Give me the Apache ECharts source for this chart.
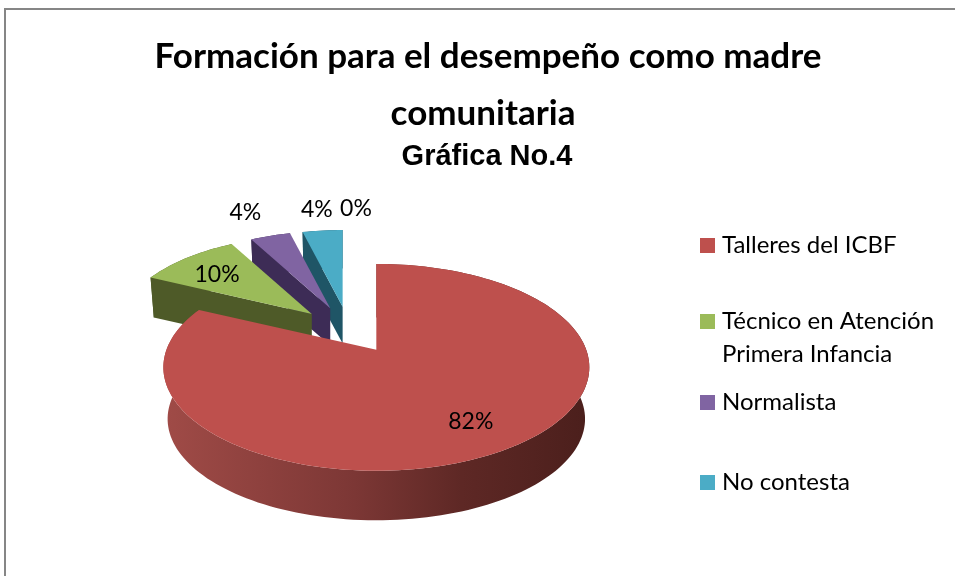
<!DOCTYPE html>
<html>
<head>
<meta charset="utf-8">
<style>
  html, body { margin: 0; padding: 0; background: #fff; }
  #chart { width: 955px; height: 576px; }
</style>
<script src="https://cdn.jsdelivr.net/npm/echarts@6/dist/echarts.min.js"></script>
</head>
<body>
<div id="chart"></div>
<script>
// datos
const categories = ["Talleres del ICBF", "Técnico en Atención Primera Infancia", "Normalista", "No contesta", ""];
const values = [82, 10, 4, 4, 0];
const topColors = ["#BE504D", "#9BBB59", "#8064A2", "#4BACC6", "#4BACC6"];
const sideColors = ["#7C3735", "#4E5A28", "#3D2C56", "#1F5566", "#1F5566"];

const total = values.reduce((a, b) => a + b, 0);
const font = "Lato";

// perspectiva del pastel 3D
const cx = 349, cy = 330;
const explodeX = 51, explodeY = 23.5;
const radiusX = 210, radiusY = 100.5, persp = 0.169;
const depth = 52, bottomScale = 0.98;

// donde va cada etiqueta: radio relativo y ajuste
const labelRadius = [0.75, 0.73, 1.1, 1.1, 1.1];
const labelShift = [[0, 0], [-1, 3], [-20, -17], [-4, -15], [7, -15]];
// orden de pintado, el rojo va encima
const sliceZ = [5, 4, 3, 2, 6];

function startAngle(i) {
  let sum = 0;
  for (let k = 0; k < i; k++) sum += values[k];
  return (sum / total) * Math.PI * 2;
}

function project(angle, r, apex, scale) {
  const u = Math.sin(angle) * r;
  const v = -Math.cos(angle) * r;
  const w = 1 - persp * v;
  return [apex[0] + (radiusX * scale * u) / w, apex[1] + (radiusY * scale * v) / w];
}

function arc(a0, a1, apex, scale) {
  const pts = [];
  const n = Math.max(2, Math.ceil((a1 - a0) / 0.03));
  for (let j = 0; j <= n; j++) pts.push(project(a0 + ((a1 - a0) * j) / n, 1, apex, scale));
  return pts;
}

function renderSlice(params, api) {
  const i = params.seriesIndex;
  const value = api.value(0);
  const a0 = startAngle(i);
  const a1 = a0 + (value / total) * Math.PI * 2;
  const mid = (a0 + a1) / 2;
  const dy = -Math.cos(mid) * explodeY;
  const apex = [cx + Math.sin(mid) * explodeX, cy + dy];
  const scale = 0.95 + dy * 0.0025;
  const low = [apex[0], apex[1] + depth * Math.pow(scale, 3)];
  const children = [];

  if (value > 0) {
    const topArc = arc(a0, a1, apex, scale);
    const lowArc = arc(a0, a1, low, scale * bottomScale);
    const wallFill = i === 0
      ? new echarts.graphic.LinearGradient(0, 0, 1, 0, [
          { offset: 0, color: "#A04B47" },
          { offset: 0.45, color: "#7C3735" },
          { offset: 0.7, color: "#5E2825" },
          { offset: 1, color: "#4B1F1C" }
        ])
      : sideColors[i];
    children.push({
      type: "polygon",
      shape: { points: topArc.concat(lowArc.slice().reverse()) },
      style: { fill: wallFill }
    });
    children.push({
      type: "polygon",
      shape: { points: [topArc[0], apex, low, lowArc[0]] },
      style: { fill: sideColors[i] }
    });
    children.push({
      type: "polygon",
      shape: { points: [apex].concat(topArc) },
      style: { fill: topColors[i] }
    });
  }

  const p = project(mid, labelRadius[i], apex, scale);
  children.push({
    type: "text",
    style: {
      x: p[0] + labelShift[i][0],
      y: p[1] + labelShift[i][1],
      text: value + "%",
      font: "23px " + font,
      fill: "#000",
      align: "center",
      verticalAlign: "middle"
    }
  });
  return { type: "group", children: children };
}

const legendTops = [229, 272, 386, 466];
const chart = echarts.init(document.getElementById("chart"), null, { renderer: "canvas" });
chart.setOption({
  animation: false,
  title: [
    { text: "Formación para el desempeño como madre", left: 483, top: 34, textAlign: "center",
      textStyle: { fontFamily: font, fontWeight: "bold", fontSize: 35, color: "#000" } },
    { text: "comunitaria", left: 478, top: 91, textAlign: "center",
      textStyle: { fontFamily: font, fontWeight: "bold", fontSize: 35, color: "#000" } },
    { text: "Gráfica No.4", left: 482, top: 137, textAlign: "center",
      textStyle: { fontFamily: "Liberation Sans", fontWeight: "bold", fontSize: 29, color: "#000" } }
  ],
  legend: categories.slice(0, 4).map((name, i) => ({
    data: [name],
    left: 700,
    top: legendTops[i],
    padding: 0,
    itemWidth: 15,
    itemHeight: 15,
    selectedMode: false,
    icon: "rect",
    formatter: (n) => n.replace(" Primera", "\nPrimera").replace(/^(.*\n.*)$/, "\n$1"),
    textStyle: { fontFamily: font, fontSize: 24, color: "#000", lineHeight: 33, padding: [0, 0, 0, 2] }
  })),
  graphic: [{
    type: "rect",
    silent: true,
    shape: { x: 5, y: 9, width: 1000, height: 640 },
    style: { fill: "none", stroke: "#868686", lineWidth: 2 }
  }],
  series: categories.map((name, i) => ({
    type: "custom",
    name: name,
    coordinateSystem: "none",
    silent: true,
    z: sliceZ[i],
    itemStyle: { color: topColors[i] },
    renderItem: renderSlice,
    data: [[values[i]]]
  }))
});
</script>
</body>
</html>
